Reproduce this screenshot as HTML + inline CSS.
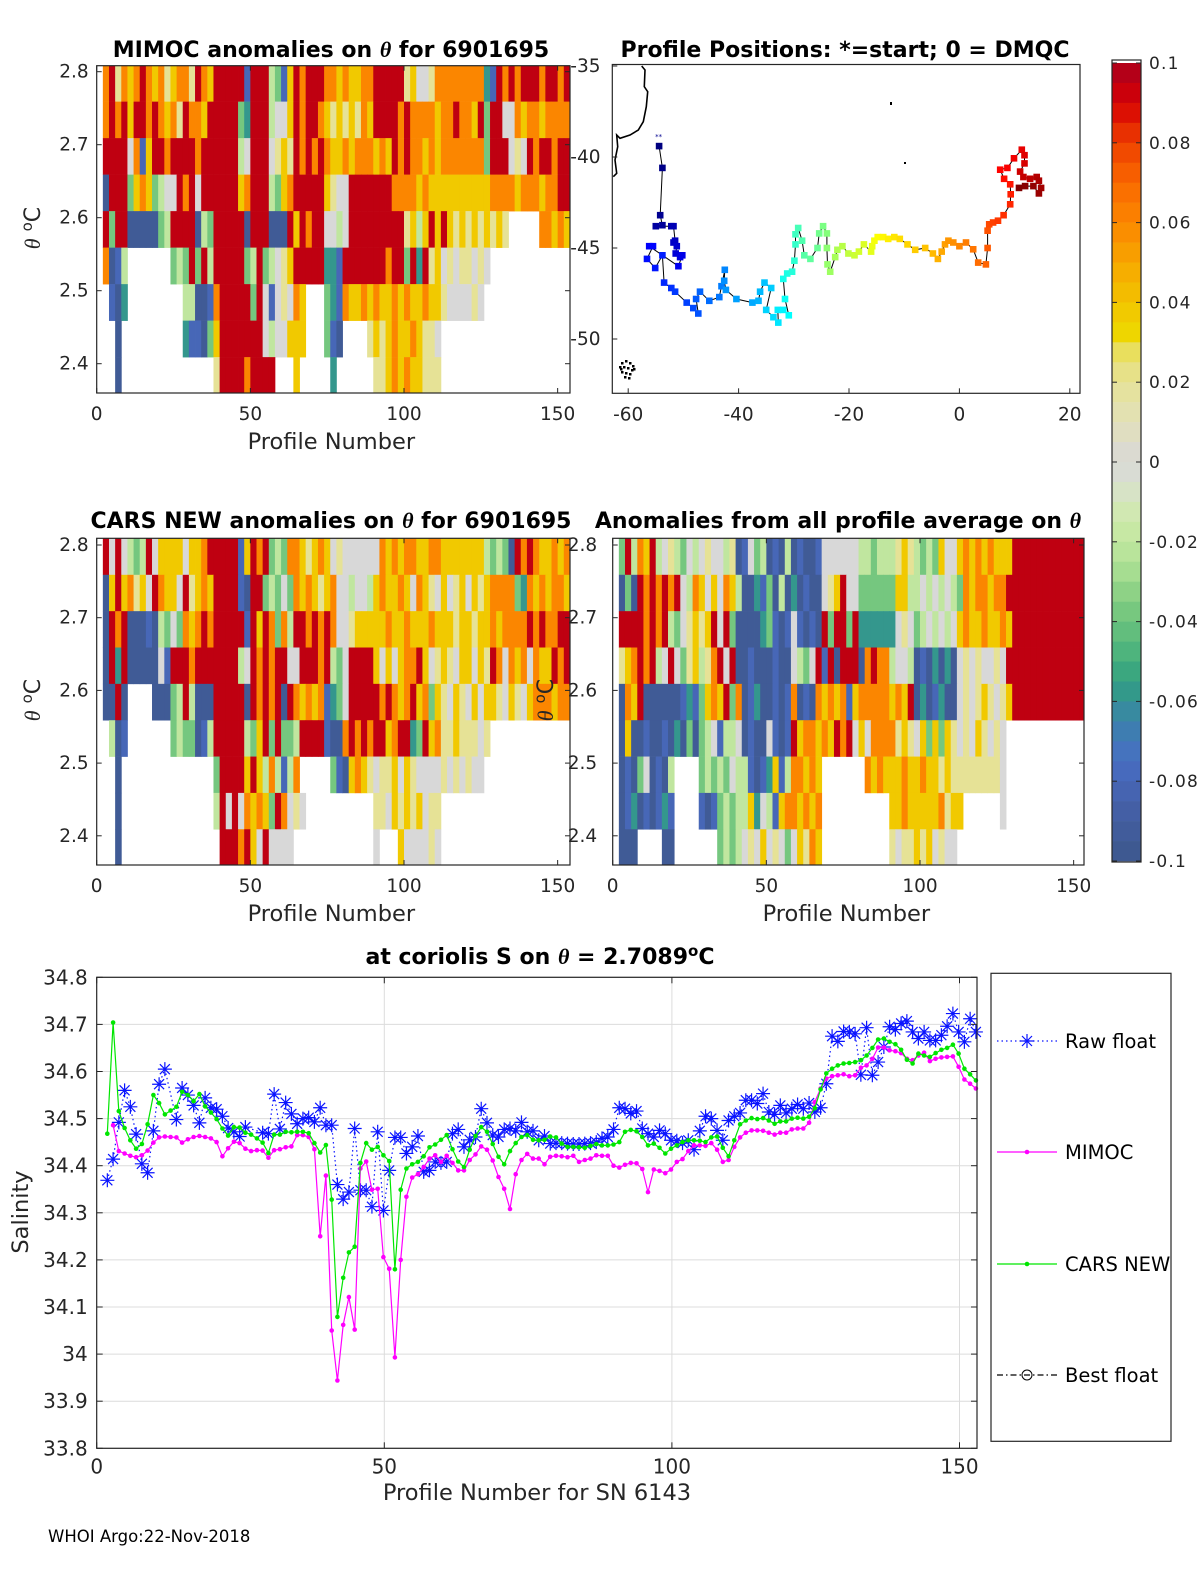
<!DOCTYPE html>
<html><head><meta charset="utf-8"><title>Argo anomalies 6901695</title>
<style>
html,body{margin:0;padding:0;background:#fff;}
svg{display:block;font-family:"DejaVu Sans","Liberation Sans",sans-serif;}
</style></head>
<body>
<svg id="fig" xmlns="http://www.w3.org/2000/svg" width="1200" height="1575" viewBox="0 0 1200 1575">
<rect width="1200" height="1575" fill="#fff"/>
<g font-weight="bold" font-size="22" fill="#000" text-anchor="middle">
<text x="331" y="57">MIMOC anomalies on <tspan font-style="italic" font-family="Liberation Serif">θ</tspan>  for 6901695</text>
<text x="845" y="57">Profile Positions: *=start; 0 = DMQC</text>
<text x="331" y="528">CARS NEW anomalies on <tspan font-style="italic" font-family="Liberation Serif">θ</tspan> for 6901695</text>
<text x="838" y="528">Anomalies from all profile average on <tspan font-style="italic" font-family="Liberation Serif">θ</tspan></text>
<text x="540" y="964">at coriolis S on <tspan font-style="italic" font-family="Liberation Serif">θ</tspan> = 2.7089<tspan dy="-8" font-size="15">o</tspan><tspan dy="8">C</tspan></text>
</g>
<g id="layer"></g>
<text x="48" y="1542" font-size="16.5" fill="#000">WHOI Argo:22-Nov-2018</text>
</svg>
<script>
// ---------- heatmap data (colour level 0..9, '.' = no data), 2 profiles per char ----------
const levelValues = [-0.095,-0.08,-0.058,-0.038,-0.02,0.0,0.02,0.038,0.06,0.095];
const thetaRowTops = [2.809,2.759,2.709,2.659,2.609,2.559,2.509,2.459,2.409];
const mimocRows = [
"."+"896878987867886987"+"99999"+"1"+"999"+"4317"+"98999"+"88787788"+"99999"+"675568"+"8888888"+"21"+"989899989989",
"."+"898979989878698879"+"9999"+"32"+"999"+"4557"+"98998"+"76767687"+"999989"+"888"+"878898879"+"39"+"955"+"878878888",
"."+"9999"+"5"+"817"+"9989999899"+"9999"+"45"+"999"+"5676"+"98989"+"87787888787"+"9898"+"8787"+"8888888"+"3"+"999"+"565"+"9899899",
"."+"0999"+"3787"+"3455"+"989599"+"9999"+"78"+"999"+"4378"+"99999"+"7655"+"9999999"+"8888"+"7877"+"77777777"+"888"+"878887889"+"9",
"."+"9399"+"00000"+"34"+"9999"+"043"+"99999"+"0"+"999"+"000"+"979899"+"5545"+"999999999"+"6747"+"979"+"7676767"+"676"+"....."+"88787",
"."+"8014"+"......."+"343"+"9394"+"99999"+"349"+"34567"+"99999"+"221"+"999999989"+"93929"+"6756566565"+".............",
"."+"."+"102"+"........."+"44001"+"89999"+"939"+"51565"+"87"+"..."+"321"+"8778787787877877"+"6555565"+"..............",
"."+".."+"0"+".........."+"21103"+"79999"+"999"+"54557"+"77"+"..."+"310"+"...."+"676787787665"+".....................",
"."+".."+"0"+"..............."+"6999989999"+"..."+"7"+"....."+"2"+"......"+"66787877666"+"....................."
];
const carsRows = [
"."+"959543495777757789"+"9999"+"17"+"9893438"+"87678756"+"555555"+"8787887788"+"7777777"+"43430"+"989877878",
"."+"0"+"79786759877596787"+"9999"+"10"+"993"+"4353"+"8787678"+"554554"+"787787587"+"6575675767"+"8888"+"32"+"8787887",
"."+"0"+"989"+"00010"+"4353"+"878"+"989"+"999"+"91"+"979"+"8384"+"9989898"+"5567"+"7777877877787"+"77677677"+"878888"+"9898899",
"."+"0"+"929"+"00000"+"51"+"99989999999"+"45"+"98989"+"95599989"+"435"+"9999"+"75757889756"+"76577576"+"9858785877989",
"."+"0"+"090"+"...."+"000"+"3494"+"000"+"9999"+"90"+"98989"+"0"+"987878"+"1235"+"9999"+"989878978"+"37"+"65765757"+"7657657"+"888788",
"."+"."+"401"+"......."+"3433"+"014"+"99999"+"437"+"9393"+"349"+"999"+"100"+"8989899789"+"923978"+"66766656"+".............",
"."+".."+"0"+"..............."+"39999"+"797"+"484148"+"....."+"310"+"7876566757655556565655"+"..............",
"."+".."+"0"+"..............."+"495958787398565"+"..........."+"66576767566"+".....................",
"."+".."+"0"+"................"+"999897595555"+"............."+"5"+"..."+"7"+"555565"+"....................."
];
const averageRows = [
"."+"394879456"+"4354565546"+"015340104"+"01001"+"555555"+"443444"+"67643437"+"55"+"787878777"+"999999999999",
"."+"03098"+"98989"+"5487575874"+"0021304020"+"100"+"567955"+"333333"+"77"+"4454545"+"43"+"8788788"+"9999999999999",
"."+"9999"+"8989"+"435"+"6767"+"9593"+"0000"+"23101"+"51010"+"939939"+"222222"+"565"+"3454545"+"787787787"+"999999999999",
"."+"678"+"989"+"45953"+"6746"+"8959"+"001000100"+"5435"+"9190"+"999"+"0"+"8988"+"4554"+"0102020"+"56565565"+"9999999999999",
"."+"0879"+"000000"+"1213"+"787938"+"01200101"+"8"+"010"+"8787817"+"88888"+"7879"+"0201200"+"565676567"+"999999999999",
"."+"070"+"0100102030"+"3451445"+"01005101"+"978"+"8787"+"989575"+"8888"+"67657"+"3737"+"656576565"+".............",
"."+"010350104"+"...."+"34343544"+"10127148"+"8787"+"......."+"8787778778776766"+"6666665"+".............",
"."+"012010121"+"...."+"1013434"+"47254178"+"87878"+"..........."+"778777778677"+"......"+"5"+".............",
"."+"000"+"...."+"00"+"......."+"343"+"45657565357687"+"..........."+"65667675655"+"....................."
];
// ---------- map track (lon, lat), in profile order ----------
const trackLon = [-54.4,-53.8,-54.2,-53.8,-55.0,-52.2,-51.8,-51.5,-51.8,-51.2,-51.4,-50.6,-50.2,-50.9,-56.2,-55.5,-56.6,-55.1,-53.8,-53.5,-52.2,-51.5,-49.4,-48.2,-47.3,-47.7,-47.0,-45.3,-43.5,-43.1,-42.5,-42.6,-42.3,-40.4,-37.5,-36.4,-36.1,-35.3,-34.1,-35.0,-33.7,-32.8,-32.9,-31.9,-30.9,-31.6,-31.9,-31.2,-30.3,-29.9,-29.7,-29.7,-29.2,-28.5,-28.1,-27.0,-25.7,-25.4,-24.7,-24.0,-24.0,-23.9,-23.4,-22.5,-22.1,-21.2,-20.1,-19.0,-18.2,-17.3,-16.0,-15.8,-15.4,-14.8,-13.8,-12.9,-11.8,-10.8,-9.4,-8.0,-6.2,-4.8,-3.9,-3.2,-2.6,-2.0,-1.1,0.0,1.2,2.5,3.4,4.8,5.1,5.1,5.4,6.1,7.0,8.0,9.2,9.3,9.2,8.1,7.4,8.7,9.9,11.3,11.8,11.8,11.0,11.6,12.8,14.0,14.4,14.8,14.4,13.4,11.9,10.8];
const trackLat = [-39.4,-40.6,-43.2,-43.75,-43.8,-43.8,-43.8,-44.6,-44.7,-44.9,-45.3,-45.5,-45.4,-46.0,-44.9,-44.9,-45.6,-46.1,-45.4,-46.9,-47.2,-47.4,-48.0,-48.3,-48.6,-47.8,-47.4,-47.9,-47.7,-47.1,-46.2,-46.8,-47.3,-47.8,-48.0,-47.9,-47.4,-46.9,-47.2,-48.4,-48.8,-49.1,-48.4,-48.4,-48.7,-47.8,-46.7,-46.4,-46.3,-45.7,-44.8,-44.25,-43.9,-44.6,-45.4,-45.6,-45.0,-44.2,-43.8,-44.2,-45.0,-45.9,-46.3,-45.5,-45.1,-44.9,-45.3,-45.4,-45.2,-44.8,-45.2,-44.9,-44.6,-44.4,-44.4,-44.5,-44.4,-44.5,-44.8,-45.1,-45.0,-45.3,-45.6,-45.2,-44.8,-44.6,-44.7,-44.9,-44.7,-45.07,-45.8,-45.9,-45.0,-44.05,-43.7,-43.6,-43.5,-43.2,-42.6,-42.05,-41.5,-41.2,-40.7,-40.6,-40.07,-39.6,-39.9,-40.35,-40.8,-41.1,-41.2,-41.1,-41.3,-41.7,-42.0,-41.6,-41.6,-41.7];
// ---------- salinity series (profiles 2..153) ----------
const firstProfile = 2;
const rawFloat = [34.369,34.414,34.492,34.560,34.525,34.467,34.404,34.385,34.474,34.573,
34.605,null,34.498,34.565,34.550,34.528,34.491,34.544,34.523,34.520,
34.505,34.480,34.472,34.462,34.482,null,null,34.470,34.468,34.552,
34.478,34.534,34.510,34.489,34.500,34.502,34.493,34.523,34.486,34.486,
34.360,34.329,34.344,34.479,34.348,34.348,34.313,34.472,34.305,34.390,
34.460,34.460,34.426,34.440,34.463,34.387,34.390,34.408,34.406,34.408,
34.468,34.477,34.440,34.455,34.461,34.521,34.491,34.465,34.461,34.477,
34.479,34.474,34.492,34.472,34.474,34.454,34.463,34.447,34.448,34.448,
34.447,34.446,34.446,34.447,34.448,34.450,34.458,34.461,34.477,34.523,
34.521,34.511,34.516,34.479,34.468,34.461,34.475,34.468,34.454,34.453,
34.448,34.454,34.434,34.474,34.505,34.500,34.475,34.454,34.496,34.505,
34.512,34.539,34.539,34.532,34.553,34.514,34.509,34.528,34.512,34.521,
34.530,34.521,34.533,34.514,34.523,34.574,34.675,34.664,34.685,34.684,
34.680,34.593,34.693,34.592,34.620,34.652,34.695,34.689,34.702,34.707,
34.684,34.670,34.684,34.666,34.666,34.677,34.696,34.723,34.684,34.663,
34.712,34.684];
const mimoc = [null,34.486,34.431,34.426,34.421,34.418,34.422,34.432,34.449,34.460,
34.462,34.461,34.460,34.449,34.456,34.461,34.463,34.461,34.458,34.450,
34.420,34.437,34.451,34.448,34.436,34.431,34.433,34.432,34.417,34.433,
34.435,34.439,34.441,34.465,34.465,34.461,34.435,34.250,34.379,34.050,
33.944,34.062,34.121,34.052,34.394,34.409,34.349,34.351,34.206,34.181,
33.993,34.200,34.334,34.375,34.382,34.397,34.415,34.422,34.408,34.421,
34.406,34.390,34.390,34.412,34.424,34.441,34.434,34.411,34.376,34.351,
34.308,34.382,34.412,34.425,34.415,34.415,34.403,34.419,34.421,34.420,
34.418,34.421,34.408,34.412,34.415,34.422,34.421,34.421,34.400,34.396,
34.402,34.406,34.405,34.393,34.344,34.392,34.389,34.384,34.392,34.408,
34.414,34.431,34.443,34.443,34.442,34.448,34.434,34.408,34.412,34.440,
34.460,34.470,34.475,34.475,34.474,34.470,34.466,34.470,34.470,34.477,
34.479,34.479,34.491,34.535,34.564,34.585,34.590,34.592,34.594,34.590,
34.592,34.608,34.613,34.627,34.651,34.651,34.645,34.643,34.639,34.627,
34.624,34.634,34.640,34.622,34.627,34.630,34.631,34.632,34.610,34.583,
34.574,34.564];
const carsNew = [34.468,34.704,34.516,34.480,34.454,34.436,34.446,34.488,34.550,34.533,
34.509,34.517,34.525,34.557,34.550,34.537,34.552,34.526,34.513,34.499,
34.479,34.464,34.482,34.481,34.470,34.466,34.458,34.449,34.427,34.466,
34.466,34.472,34.471,34.472,34.472,34.469,34.448,34.428,34.444,34.328,
34.079,34.162,34.216,34.228,34.406,34.448,34.434,34.440,34.422,34.410,
34.180,34.349,34.394,34.403,34.408,34.420,34.439,34.445,34.455,34.465,
34.435,34.409,34.397,34.434,34.463,34.482,34.472,34.446,34.419,34.403,
34.431,34.448,34.461,34.465,34.455,34.454,34.455,34.462,34.460,34.447,
34.440,34.440,34.439,34.438,34.442,34.446,34.443,34.443,34.445,34.450,
34.472,34.476,34.473,34.461,34.443,34.447,34.438,34.426,34.436,34.443,
34.450,34.454,34.454,34.453,34.450,34.460,34.462,34.438,34.420,34.454,
34.488,34.496,34.501,34.499,34.501,34.496,34.489,34.494,34.494,34.500,
34.502,34.500,34.504,34.522,34.562,34.596,34.606,34.613,34.617,34.618,
34.620,34.624,34.634,34.650,34.668,34.670,34.663,34.658,34.646,34.625,
34.617,34.638,34.634,34.631,34.639,34.646,34.650,34.657,34.638,34.606,
34.594,34.581];
const profileTicks = [0,50,100,150];
const thetaTicks = [2.4,2.5,2.6,2.7,2.8];
const lonTicks = [-60,-40,-20,0,20];
const latTicks = [-35,-40,-45,-50];
const cbarTicks = [0.1,0.08,0.06,0.04,0.02,0,-0.02,-0.04,-0.06,-0.08,-0.1];
const salTicks = [33.8,33.9,34,34.1,34.2,34.3,34.4,34.5,34.6,34.7,34.8];

// ---------- helpers ----------
const NS="http://www.w3.org/2000/svg";
const layer=document.getElementById('layer');
function mk(tag,attrs,parent){const e=document.createElementNS(NS,tag);for(const k in attrs)e.setAttribute(k,attrs[k]);(parent||layer).appendChild(e);return e;}
const stops=[[-0.1,[61,88,140]],[-0.085,[69,96,170]],[-0.075,[72,110,196]],[-0.065,[58,130,170]],[-0.055,[49,160,128]],[-0.045,[88,186,124]],[-0.035,[130,204,128]],[-0.025,[178,226,150]],[-0.015,[206,234,168]],[-0.005,[218,224,208]],[0,[216,216,216]],[0.01,[226,224,186]],[0.02,[230,226,150]],[0.027,[232,224,112]],[0.03,[236,220,0]],[0.04,[242,196,0]],[0.05,[247,166,0]],[0.06,[251,134,0]],[0.07,[250,104,0]],[0.08,[238,64,0]],[0.09,[214,0,4]],[0.1,[168,0,30]]];
function cmap(v){if(v<=stops[0][0])return rgb(stops[0][1]);for(let i=1;i<stops.length;i++){if(v<=stops[i][0]){const a=stops[i-1],b=stops[i];const t=(v-a[0])/(b[0]-a[0]);return rgb(a[1].map((c,j)=>c+(b[1][j]-c)*t));}}return rgb(stops[stops.length-1][1]);}
function rgb(c){return 'rgb('+c.map(x=>Math.round(x)).join(',')+')';}
function jet(t){const r=Math.min(1,Math.max(0,1.5-Math.abs(4*t-3))),g=Math.min(1,Math.max(0,1.5-Math.abs(4*t-2))),b=Math.min(1,Math.max(0,1.5-Math.abs(4*t-1)));return rgb([r*255,g*255,b*255]);}
const AX='#262626';
function txt(x,y,s,opts,parent){const t=mk('text',Object.assign({x:x,y:y,'font-size':18.5,fill:AX},opts||{}),parent);t.textContent=s;return t;}

// ---------- heatmap panels ----------
function heatPanel(name,rows,x0,x1,y0,y1,yAt28,ypx,showLeftLabels,rightLabels){
  const g=mk('g',{});
  
  
  const cid='clip-'+name;
  const cp=mk('clipPath',{id:cid},g);mk('rect',{x:x0,y:y0,width:x1-x0,height:y1-y0},cp);
  const cells=mk('g',{'clip-path':'url(#'+cid+')'},g);
  const xs=p=>x0+3.073*p, ys=th=>yAt28+(2.8-th)*ypx;
  rows.forEach((row,r)=>{
    const yt=ys(thetaRowTops[r]), yb=ys(thetaRowTops[r]-0.05);
    for(let i=0;i<row.length&&i<78;i++){
      const ch=row[i]; if(ch==='.')continue;
      const v=levelValues[+ch];
      const rc=mk('rect',{x:xs(2*i).toFixed(2),y:yt.toFixed(2),width:(xs(2*i+2)-xs(2*i)+0.4).toFixed(2),height:(yb-yt+0.3).toFixed(2),fill:cmap(v)},cells);
      
      
    }
  });
  mk('rect',{x:x0,y:y0,width:x1-x0,height:y1-y0,fill:'none',stroke:AX,'stroke-width':1.2},g);
  profileTicks.forEach(p=>{const x=xs(p);mk('line',{x1:x,x2:x,y1:y1,y2:y1-5,stroke:AX},g);mk('line',{x1:x,x2:x,y1:y0,y2:y0+5,stroke:AX},g);txt(x,y1+27,String(p),{'text-anchor':'middle'},g);});
  thetaTicks.forEach(th=>{const y=ys(th);mk('line',{x1:x0,x2:x0+5,y1:y,y2:y,stroke:AX},g);mk('line',{x1:x1,x2:x1-5,y1:y,y2:y,stroke:AX},g);
    if(showLeftLabels)txt(x0-8,y+6,th.toFixed(1),{'text-anchor':'end'},g);
    if(rightLabels)txt(x0-45,y+6,th.toFixed(1),{'text-anchor':'start'},g);});
  const xl=txt((x0+x1)/2-2,y1+56,'Profile Number',{'text-anchor':'middle','font-size':22.5},g);
  
  
  return {g,ys};
}
const p1=heatPanel('mimoc-heatmap',mimocRows,96.7,570,65.7,393,71.7,730,true,false);
const p3=heatPanel('cars-heatmap',carsRows,96.7,570,538.3,865,545,727,true,false);
const p4=heatPanel('average-heatmap',averageRows,612.7,1084,538.3,865,545,727,false,true);
function yTitle(x,y){const t=mk('text',{x:x,y:y,'font-size':22,fill:AX,'text-anchor':'middle',transform:'rotate(-90 '+x+' '+y+')'});
  
  
  t.innerHTML='<tspan font-family="Liberation Serif" font-style="italic">θ</tspan> <tspan dy="-8" font-size="15">o</tspan><tspan dy="8">C</tspan>';}
yTitle(40,228);yTitle(40,700);yTitle(553,700);

// ---------- map ----------
(function(){
  const g=mk('g',{});
  
  
  const x0=612.3,x1=1080,y0=64.5,y1=393.3;
  const mx=lon=>959.4+5.52*lon, my=lat=>66+(-35-lat)*18.2;
  mk('path',{d:'M641.7,66 L645,70 L644.3,86.7 L647.7,91.7 L646.3,106.7 L643.3,121.7 L638.3,130 L630,135 L620,138.3 L616.7,135 L617.7,146.7 L615,160 L616.7,173.3 L613.3,176.7',fill:'none',stroke:'#000','stroke-width':1.6},g);
  const speck=mk('g',{fill:'#000'},g);
  [[621,362],[625,360],[629,362],[632,365],[619,366],[623,366],[627,367],[631,369],[621,371],[625,372],[629,373],[624,376],[628,377],[620,368],[633,368]].forEach(p=>mk('rect',{x:p[0],y:p[1],width:2.5,height:2.5},speck));
  mk('rect',{x:890,y:102,width:2,height:3,fill:'#000'},g);mk('rect',{x:904,y:162,width:2,height:2,fill:'#000'},g);
  const pts=trackLon.map((lo,i)=>[mx(lo),my(trackLat[i])]);
  mk('polyline',{points:pts.map(p=>p[0].toFixed(1)+','+p[1].toFixed(1)).join(' '),fill:'none',stroke:'#000','stroke-width':1},g);
  pts.forEach((p,i)=>{const r=mk('rect',{x:(p[0]-3.3).toFixed(1),y:(p[1]-3.3).toFixed(1),width:6.6,height:6.6,fill:jet(i/(pts.length-1))},g);
    
    });
  mk('text',{x:mx(trackLon[0])-4,y:my(trackLat[0])-7,'font-size':7,fill:'#00008f'},g).textContent='**';
  mk('rect',{x:x0,y:y0,width:x1-x0,height:y1-y0,fill:'none',stroke:AX,'stroke-width':1.2},g);
  lonTicks.forEach(lo=>{const x=mx(lo);mk('line',{x1:x,x2:x,y1:y1,y2:y1-5,stroke:AX},g);txt(x,y1+27,String(lo),{'text-anchor':'middle'},g);});
  latTicks.forEach(la=>{const y=my(la);mk('line',{x1:x0,x2:x0+5,y1:y,y2:y,stroke:AX},g);txt(x0-42,y+6,String(la),{'text-anchor':'start'},g);});
})();

// ---------- colorbar ----------
(function(){
  const g=mk('g',{});
  
  
  const x0=1112,x1=1141,yTop=60,yBot=862, yv=v=>462-v*3990;
  for(let k=0;k<40;k++){const v1=0.1-k*0.005,v0=v1-0.005;const y=Math.max(yTop,yv(v1));mk('rect',{x:x0,y:y,width:x1-x0,height:Math.min(yBot,yv(v0))-y+0.3,fill:cmap((v0+v1)/2)},g);}
  mk('rect',{x:x0,y:yTop,width:x1-x0,height:yBot-yTop,fill:'none',stroke:AX,'stroke-width':1.2},g);
  cbarTicks.forEach(v=>{const y=yv(v);mk('line',{x1:x1,x2:x1-5,y1:y,y2:y,stroke:AX},g);mk('line',{x1:x0,x2:x0+5,y1:y,y2:y,stroke:AX},g);
    txt(1149,y+6,v===0?'0':String(v),{'text-anchor':'start','font-size':17,'letter-spacing':'1.2'},g);});
})();

// ---------- salinity line chart ----------
(function(){
  const g=mk('g',{});
  
  
  const x0=96.7,x1=977,y0=977.3,y1=1448.3;
  const xs=p=>x0+5.752*(p-0.15), ys=s=>y0+(34.8-s)*471;
  mk('rect',{x:x0,y:y0,width:x1-x0,height:y1-y0,fill:'#fff'},g);
  salTicks.forEach(s=>{const y=ys(s);mk('line',{x1:x0,x2:x1,y1:y,y2:y,stroke:'#dcdcdc'},g);});
  profileTicks.forEach(p=>{const x=x0+5.752*p;if(p>0)mk('line',{x1:x,x2:x,y1:y0,y2:y1,stroke:'#dcdcdc'},g);});
  function series(arr,name,color,dash,marker){
    const sg=mk('g',{},g);
    
    
    let seg=[];const segs=[];
    arr.forEach((v,i)=>{if(v===null){if(seg.length)segs.push(seg);seg=[];}else seg.push([xs(firstProfile+i),ys(v)]);});
    if(seg.length)segs.push(seg);
    const all=[];arr.forEach((v,i)=>{if(v!==null)all.push([xs(firstProfile+i),ys(v)]);});
    (dash?[all]:segs).forEach(s=>mk('polyline',{points:s.map(p=>p[0].toFixed(1)+','+p[1].toFixed(1)).join(' '),fill:'none',stroke:color,'stroke-width':1.2,'stroke-dasharray':dash||'none'},sg));
    all.forEach(p=>{marker(p[0],p[1],sg);});
  }
  function dot(color){return (x,y,par)=>{const c=mk('circle',{cx:x.toFixed(1),cy:y.toFixed(1),r:2.3,fill:color},par);return c;};}
  function star(x,y,par){const s=mk('path',{d:`M${x-7},${y}h14M${x},${y-7}v14M${x-5},${y-5}l10,10M${x-5},${y+5}l10,-10`,stroke:'#0a14ff','stroke-width':1.2,fill:'none'},par);return s;}
  series(rawFloat,'raw-float-series','#0a14ff','1.5,3',star);
  series(mimoc,'mimoc-series','#ff00ff',null,dot('#ff00ff'));
  series(carsNew,'cars-new-series','#00e600',null,dot('#00e600'));
  mk('rect',{x:x0,y:y0,width:x1-x0,height:y1-y0,fill:'none',stroke:AX,'stroke-width':1.2},g);
  salTicks.forEach(s=>{const y=ys(s);mk('line',{x1:x0,x2:x0+6,y1:y,y2:y,stroke:AX},g);mk('line',{x1:x1,x2:x1-6,y1:y,y2:y,stroke:AX},g);
    txt(x0-9,y+7,Math.abs(s-34)<1e-9?'34':s.toFixed(1),{'text-anchor':'end','font-size':20},g);});
  profileTicks.forEach(p=>{const x=x0+5.752*p;mk('line',{x1:x,x2:x,y1:y1,y2:y1-6,stroke:AX},g);mk('line',{x1:x,x2:x,y1:y0,y2:y0+6,stroke:AX},g);txt(x,y1+25,String(p),{'text-anchor':'middle','font-size':20},g);});
  const xl=txt(537,1500,'Profile Number for SN 6143',{'text-anchor':'middle','font-size':22.5},g);
  
  
  const yl=txt(28,1212,'Salinity',{'text-anchor':'middle','font-size':22.5,transform:'rotate(-90 28 1212)'},g);
  
  
  const lg=mk('g',{},g);
  
  
  mk('rect',{x:991,y:y0-4,width:180,height:y1-y0-3,fill:'#fff',stroke:AX,'stroke-width':1.2},lg);
  const entries=[['Raw float',1041],['MIMOC',1152],['CARS NEW',1264],['Best float',1375]];
  entries.forEach(([lab,y],i)=>{
    const eg=mk('g',{},lg);
    
    
    if(i===0){mk('line',{x1:997,x2:1057,y1:y,y2:y,stroke:'#0a14ff','stroke-dasharray':'1.5,3','stroke-width':1.2},eg);star(1027,y,eg);}
    if(i===1){mk('line',{x1:997,x2:1057,y1:y,y2:y,stroke:'#ff00ff','stroke-width':1.2},eg);dot('#ff00ff')(1027,y,eg);}
    if(i===2){mk('line',{x1:997,x2:1057,y1:y,y2:y,stroke:'#00e600','stroke-width':1.2},eg);dot('#00e600')(1027,y,eg);}
    if(i===3){mk('line',{x1:997,x2:1057,y1:y,y2:y,stroke:'#000','stroke-dasharray':'6,3,1.5,3','stroke-width':1.2},eg);mk('circle',{cx:1027,cy:y,r:5,fill:'none',stroke:'#000'},eg);}
    txt(1065,y+7,lab,{'font-size':19.5,fill:'#000'},eg);
  });
})();
</script>
</body></html>
